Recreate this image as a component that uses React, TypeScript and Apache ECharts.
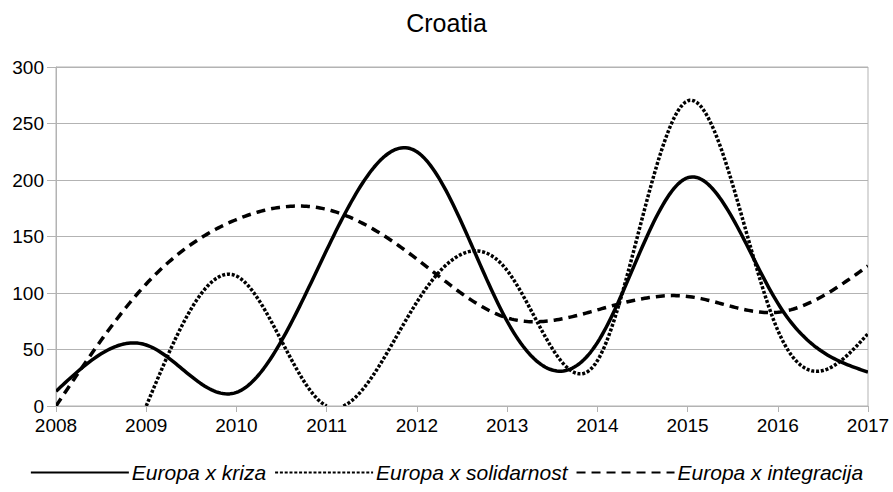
import React, { useEffect, useRef } from "react";
import * as echarts from "echarts";

const years = ["2008", "2009", "2010", "2011", "2012", "2013", "2014", "2015", "2016", "2017"];
const kriza = [13, 54, 12, 138, 225, 75, 56, 202, 91, 30];
const solidarnost = [null, 0, 115, 0, 92, 120, 40, 270, 67, 64];
const integracija = [0, 108, 165, 174, 130, 78, 85, 97, 83, 124];
const seriesNames = ["Europa x kriza", "Europa x solidarnost", "Europa x integracija"];

// Natural cubic spline second derivatives for uniformly spaced values
function splineM(ys: number[]): number[] {
  const n = ys.length;
  const M = new Array(n).fill(0);
  if (n < 3) return M;
  const m = n - 2;
  const cp = new Array(m).fill(0);
  const dp = new Array(m).fill(0);
  for (let k = 0; k < m; k++) {
    const i = k + 1;
    const rhs = 6 * (ys[i + 1] - 2 * ys[i] + ys[i - 1]);
    const a = k === 0 ? 0 : 1;
    const denom = 4 - a * (k === 0 ? 0 : cp[k - 1]);
    cp[k] = 1 / denom;
    dp[k] = (rhs - a * (k === 0 ? 0 : dp[k - 1])) / denom;
  }
  for (let k = m - 1; k >= 0; k--) {
    M[k + 1] = dp[k] - cp[k] * (k === m - 1 ? 0 : M[k + 2]);
  }
  return M;
}

function makeRenderItem(values: (number | null)[], style: any) {
  const start = values.findIndex((v) => v !== null);
  const ys = values.slice(start) as number[];
  const M = splineM(ys);
  const steps = 40;
  return (params: any, api: any) => {
    if (params.dataIndex !== 0) return null;
    const runs: number[][][] = [];
    let cur: number[][] = [];
    let prev: { x: number; v: number } | null = null;
    const zeroY = api.coord([start, 0])[1];
    for (let i = 0; i < ys.length - 1; i++) {
      const p0 = api.coord([start + i, 0])[0];
      const p1 = api.coord([start + i + 1, 0])[0];
      for (let s = i === 0 ? 0 : 1; s <= steps; s++) {
        const u = s / steps;
        const w = 1 - u;
        const v = w * ys[i] + u * ys[i + 1] + ((w * w * w - w) * M[i]) / 6 + ((u * u * u - u) * M[i + 1]) / 6;
        const x = p0 + u * (p1 - p0);
        if (prev && (prev.v >= 0) !== (v >= 0)) {
          const t = prev.v / (prev.v - v);
          const cx = prev.x + t * (x - prev.x);
          if (v < 0) {
            cur.push([cx, zeroY]);
            runs.push(cur);
            cur = [];
          } else {
            cur = [[cx, zeroY]];
          }
        }
        if (v >= 0) cur.push([x, api.coord([start + i, v])[1]]);
        prev = { x, v };
      }
    }
    if (cur.length > 1) runs.push(cur);
    return {
      type: "group",
      children: runs.map((points) => ({
        type: "polyline",
        shape: { points },
        style: { fill: null, stroke: "#000", lineWidth: 3.5, lineCap: "butt", lineJoin: "round", ...style },
      })),
    };
  };
}

export default function App() {
  const ref = useRef<HTMLDivElement>(null);
  useEffect(() => {
    if (!ref.current) return;
    const chart = echarts.init(ref.current, null, { renderer: "svg" });
    const font = "'Liberation Sans', Arial, sans-serif";
    const gray = "#b3b3b3";
    const lw = 3.5;
    const dashes: any[] = ["solid", [3, 1.8], [9, 6]];
    const lineDashes: any[] = [null, [3, 1.8], [9, 6]];
    const allValues = [kriza, solidarnost, integracija];
    const legendSeries = seriesNames.map((name, k) => ({
      name,
      type: "line",
      data: [],
      symbol: "none",
      lineStyle: { color: "#000", width: lw, type: dashes[k] },
      itemStyle: { color: "#000" },
    }));
    const curveSeries = seriesNames.map((name, k) => ({
      name,
      type: "custom",
      coordinateSystem: "cartesian2d",
      clip: true,
      silent: true,
      encode: { x: 0, y: 1 },
      data: allValues[k]
        .map((v, i) => (v === null ? null : [i, v]))
        .filter((d) => d !== null),
      renderItem: makeRenderItem(allValues[k], lineDashes[k] ? { lineDash: lineDashes[k] } : {}),
    }));
    chart.setOption({
      animation: false,
      backgroundColor: "#ffffff",
      title: {
        text: "Croatia",
        left: "center",
        top: 5,
        textStyle: { fontFamily: font, fontSize: 25, fontWeight: "normal", color: "#000" },
      },
      legend: {
        bottom: 4,
        left: "center",
        icon: "inherit",
        itemWidth: 98,
        itemHeight: 14,
        itemGap: 8,
        itemStyle: { opacity: 0 },
        textStyle: { fontFamily: font, fontSize: 21, fontStyle: "italic", color: "#000", padding: [0, 0, 0, -2] },
        data: seriesNames,
      },
      grid: {
        left: 56,
        right: 25,
        top: 67,
        bottom: 86,
        show: true,
        borderColor: gray,
        borderWidth: 1,
      },
      xAxis: {
        type: "category",
        data: years,
        boundaryGap: false,
        axisLine: { lineStyle: { color: gray, width: 1 } },
        axisTick: { show: true, length: 6, lineStyle: { color: gray } },
        axisLabel: { fontFamily: font, fontSize: 19, color: "#000", margin: 10 },
        splitLine: { show: false },
      },
      yAxis: {
        type: "value",
        min: 0,
        max: 300,
        interval: 50,
        axisLine: { show: true, lineStyle: { color: gray, width: 1 } },
        axisTick: { show: true, length: 9, lineStyle: { color: gray } },
        axisLabel: { fontFamily: font, fontSize: 19, color: "#000", margin: 12 },
        splitLine: { show: true, lineStyle: { color: gray, width: 1 } },
      },
      series: [...legendSeries, ...curveSeries],
    });
    return () => chart.dispose();
  }, []);
  return <div ref={ref} style={{ width: 893, height: 492, position: "absolute", left: 0, top: 0 }} />;
}
